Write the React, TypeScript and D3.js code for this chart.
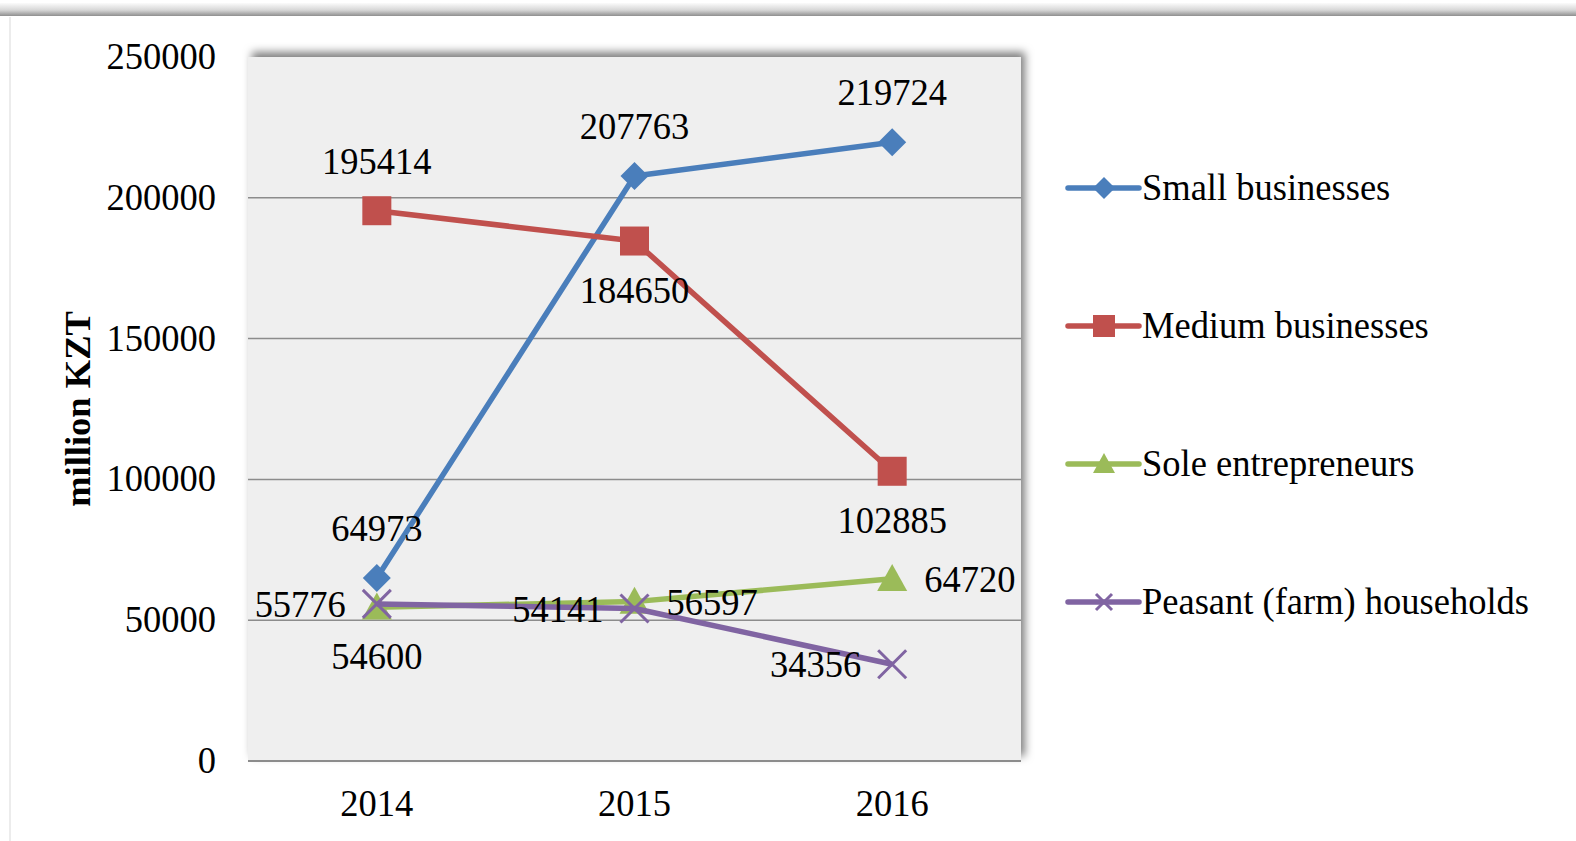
import * as d3 from 'd3';

const years = ['2014', '2015', '2016'];
const seriesNames = ['Small businesses', 'Medium businesses', 'Sole entrepreneurs', 'Peasant (farm) households'];
const smallValues = [64973, 207763, 219724];
const mediumValues = [195414, 184650, 102885];
const soleValues = [54600, 56597, 64720];
const peasantValues = [55776, 54141, 34356];
const yTicks = [0, 50000, 100000, 150000, 200000, 250000];

// where each data label sits relative to its point
const smallPos = ['above', 'above', 'above'];
const mediumPos = ['above', 'below', 'below'];
const solePos = ['below', 'right', 'right'];
const peasantPos = ['left', 'left', 'left'];

const colors = ['#4a7ebb', '#c0504d', '#9bbb59', '#8064a2'];
const markers = ['diamond', 'square', 'triangle', 'x'];

const W = 1576;
const H = 841;
const SY = 1.04; // text in the reference is a touch taller than normal
const FONT = '"Liberation Serif", "Times New Roman", serif';

const plot = { left: 248, right: 1021, top: 57, bottom: 761 };

const x = d3.scaleBand<string>().domain(years).range([plot.left, plot.right]).padding(0);
const y = d3.scaleLinear().domain([0, 250000]).range([plot.bottom, plot.top]);
const cx = (yr: string) => (x(yr) ?? 0) + x.bandwidth() / 2;

const series = [smallValues, mediumValues, soleValues, peasantValues].map((values, i) => ({
  name: seriesNames[i],
  values,
  pos: [smallPos, mediumPos, solePos, peasantPos][i],
  color: colors[i],
  marker: markers[i],
}));

function Txt(props: { x: number; y: number; anchor?: string; size?: number; weight?: string; rotate?: boolean; children: any }) {
  const { x: tx, y: ty, anchor = 'middle', size = 36.5, weight = 'normal', rotate = false } = props;
  return (
    <text
      transform={rotate ? `translate(${tx},${ty}) rotate(-90)` : `translate(${tx},${ty}) scale(1,${SY})`}
      textAnchor={anchor}
      fontFamily={FONT}
      fontSize={size}
      fontWeight={weight}
      fill="#000"
    >
      {props.children}
    </text>
  );
}

function Marker({ kind, px, py, color, s }: { kind: string; px: number; py: number; color: string; s: number }) {
  if (kind === 'diamond') {
    const r = s / 2;
    return <path d={`M${px},${py - r}L${px + r},${py}L${px},${py + r}L${px - r},${py}Z`} fill={color} />;
  }
  if (kind === 'square') {
    return <rect x={px - s / 2} y={py - s / 2} width={s} height={s} fill={color} />;
  }
  if (kind === 'triangle') {
    const h = s * 0.9;
    return (
      <path
        d={`M${px},${py - h * 0.55}L${px + s / 2},${py + h * 0.45}L${px - s / 2},${py + h * 0.45}Z`}
        fill={color}
      />
    );
  }
  const r = s / 2;
  return (
    <path
      d={`M${px - r},${py - r}L${px + r},${py + r}M${px - r},${py + r}L${px + r},${py - r}`}
      stroke={color}
      strokeWidth={3}
      fill="none"
    />
  );
}

export default function App() {
  const line = d3
    .line<number>()
    .x((_, i) => cx(years[i]))
    .y((d) => y(d));

  const labelPlace = (pos: string, px: number, py: number) => {
    if (pos === 'above') return { x: px, y: py - 37, anchor: 'middle' };
    if (pos === 'below') return { x: px, y: py + 62, anchor: 'middle' };
    if (pos === 'left') return { x: px - 31, y: py + 13, anchor: 'end' };
    return { x: px + 32, y: py + 13, anchor: 'start' };
  };

  const legendY = [188, 326, 464, 602];

  return (
    <svg width={W} height={H} style={{ position: 'absolute', left: 0, top: 0, background: '#fff' }}>
      <defs>
        <linearGradient id="topbar" x1="0" y1="0" x2="0" y2="1">
          <stop offset="0" stopColor="#fbfbfb" />
          <stop offset="0.55" stopColor="#d6d6d6" />
          <stop offset="1" stopColor="#8f8f8f" />
        </linearGradient>
        <filter id="plotShadow" x="-5%" y="-5%" width="110%" height="110%">
          <feDropShadow dx="4" dy="-5" stdDeviation="4" floodColor="#000" floodOpacity="0.5" />
        </filter>
      </defs>

      <rect x={0} y={0} width={W} height={H} fill="#fff" />
      <rect x={0} y={3} width={W} height={13} fill="url(#topbar)" />
      <line x1={10} x2={10} y1={17} y2={H} stroke="#ececec" strokeWidth={2} />

      <rect
        x={plot.left}
        y={plot.top}
        width={plot.right - plot.left}
        height={plot.bottom - plot.top}
        fill="#efefef"
        filter="url(#plotShadow)"
      />

      {yTicks.map((t) => (
        <g key={t}>
          {t > 0 && t < 250000 && (
            <line x1={plot.left} x2={plot.right} y1={y(t)} y2={y(t)} stroke="#8c8c8c" strokeWidth={1.5} />
          )}
          <Txt x={216} y={y(t) + 12} anchor="end">
            {t}
          </Txt>
        </g>
      ))}
      <line x1={plot.left} x2={plot.right} y1={plot.bottom} y2={plot.bottom} stroke="#8c8c8c" strokeWidth={2} />

      {years.map((yr) => (
        <Txt key={yr} x={cx(yr)} y={816}>
          {yr}
        </Txt>
      ))}

      <Txt x={90} y={409} size={36.5} weight="bold" rotate>
        million KZT
      </Txt>

      {series.map((s) => (
        <g key={s.name}>
          <path d={line(s.values) ?? ''} fill="none" stroke={s.color} strokeWidth={5.5} strokeLinejoin="round" />
          {s.values.map((v, i) => (
            <Marker
              key={i}
              kind={s.marker}
              px={cx(years[i])}
              py={y(v)}
              color={s.color}
              s={s.marker === 'square' ? 29 : s.marker === 'triangle' ? 30 : 28}
            />
          ))}
        </g>
      ))}

      {series.map((s) =>
        s.values.map((v, i) => {
          const p = labelPlace(s.pos[i], cx(years[i]), y(v));
          return (
            <Txt key={s.name + i} x={p.x} y={p.y} anchor={p.anchor}>
              {v}
            </Txt>
          );
        })
      )}

      {series.map((s, i) => (
        <g key={s.name}>
          <line
            x1={1068}
            x2={1139}
            y1={legendY[i]}
            y2={legendY[i]}
            stroke={s.color}
            strokeWidth={5.5}
            strokeLinecap="round"
          />
          <Marker kind={s.marker} px={1104} py={legendY[i]} color={s.color} s={s.marker === 'x' ? 16 : 22} />
          <Txt x={1142} y={legendY[i] + 12} anchor="start">
            {s.name}
          </Txt>
        </g>
      ))}
    </svg>
  );
}
